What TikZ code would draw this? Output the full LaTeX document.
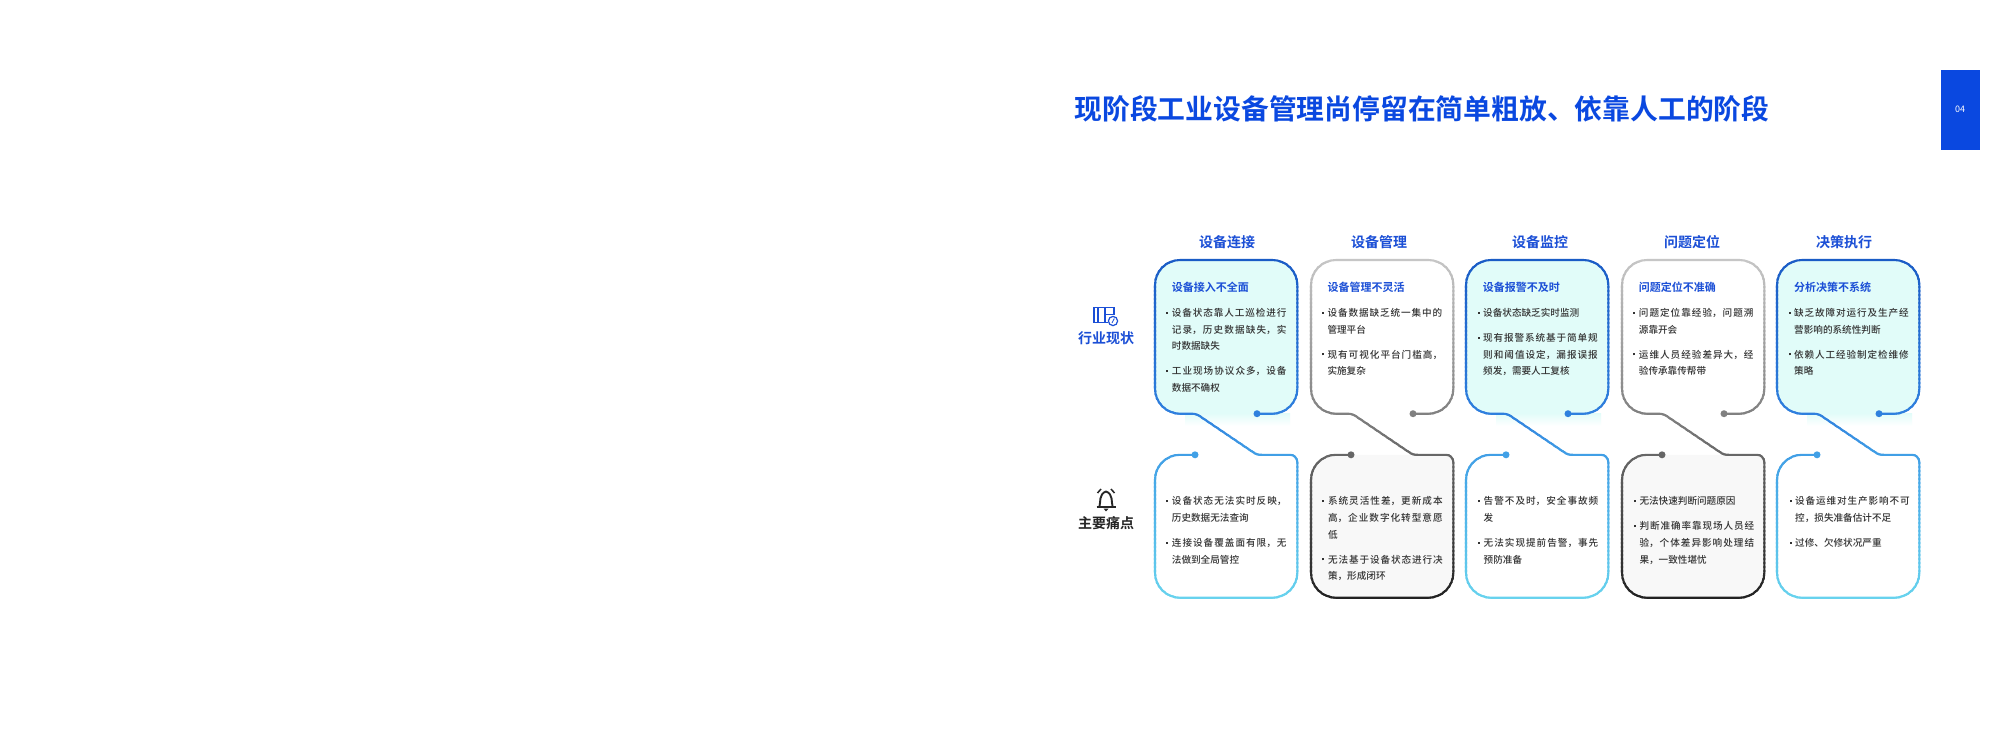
\documentclass[tikz,border=0pt]{standalone}
\usepackage{fontspec}
\setmainfont{Noto Sans CJK SC}[BoldFont=* Bold]
\newfontfamily\bodyfam{Noto Sans CJK SC Medium}
\XeTeXlinebreaklocale "zh"
\XeTeXlinebreakskip=0pt plus 3pt
\definecolor{brand}{HTML}{0A48E0}
\definecolor{headblue}{HTML}{1B4FD6}
\definecolor{bodytxt}{HTML}{333333}
\definecolor{palecyan}{HTML}{E1FCF9}
\definecolor{paleg}{HTML}{F8F8F8}
\definecolor{bA}{HTML}{1A5CC6}\definecolor{bB}{HTML}{2F80DE}\definecolor{bC}{HTML}{41A0E6}\definecolor{bD}{HTML}{68D4EE}
\definecolor{gA}{HTML}{C6C6C6}\definecolor{gB}{HTML}{808080}\definecolor{gC}{HTML}{666666}\definecolor{gD}{HTML}{202020}
\newcommand{\bul}{\leavevmode\llap{\raisebox{2.6pt}{\rule{2pt}{2pt}}\hspace{3.6pt}}}
\newcommand{\bodytext}[3]{\node[bodynode] at (#1,#2) {\bul #3};}
\newcommand{\pp}{\par\bul}
% one column outline: dot -> around the upper box -> tail -> around the lower box -> dot
\newcommand{\colpath}[1]{(#1+102,413.7) -- (#1+117.3,413.7) arc[start angle=90,end angle=0,radius=25] -- (#1+142.3,285) arc[start angle=0,end angle=-90,radius=25] -- (#1+25,260) arc[start angle=-90,end angle=-180,radius=25] -- (#1,388.7) arc[start angle=180,end angle=90,radius=25] -- (#1+37,413.7) .. controls (#1+41,413.7) and (#1+43,415) .. (#1+45,416.3) -- (#1+97,451.5) .. controls (#1+101,454.3) and (#1+103,454.8) .. (#1+107,454.8) -- (#1+135,454.8) arc[start angle=-90,end angle=0,radius=7.3] -- (#1+142.3,572.7) arc[start angle=0,end angle=90,radius=25] -- (#1+25,597.7) arc[start angle=90,end angle=180,radius=25] -- (#1,479.8) arc[start angle=180,end angle=270,radius=25] -- (#1+40,454.8)}
\newcommand{\upperfill}[1]{(#1+25,260) -- (#1+117.3,260) arc[start angle=-90,end angle=0,radius=25] -- (#1+142.3,388.7) arc[start angle=0,end angle=90,radius=25] -- (#1+25,413.7) arc[start angle=90,end angle=180,radius=25] -- (#1,285) arc[start angle=180,end angle=270,radius=25] -- cycle}
\newcommand{\lowerfill}[1]{(#1+25,454.8) -- (#1+135,454.8) arc[start angle=-90,end angle=0,radius=7.3] -- (#1+142.3,572.7) arc[start angle=0,end angle=90,radius=25] -- (#1+25,597.7) arc[start angle=90,end angle=180,radius=25] -- (#1,479.8) arc[start angle=180,end angle=270,radius=25] -- cycle}
% gradient stroke: overlapping horizontal clip bands
\newcommand{\gradstroke}[2]{%
 \foreach \yy in {258,262,...,600}{%
  \pgfmathsetmacro{\tt}{\yy<413?(\yy-258)/155*100:(\yy<455?(\yy-413)/42*100:(\yy-455)/145*100)}%
  \ifnum\yy<413 \colorlet{cc}{#2B!\tt!#2A}\else\ifnum\yy<455 \colorlet{cc}{#2C!\tt!#2B}\else\colorlet{cc}{#2D!\tt!#2C}\fi\fi
  \begin{scope}\clip (#1-5,\yy) rectangle (#1+150,\yy+5.5);
   \draw[outl,cc] \colpath{#1};
  \end{scope}}%
}
\tikzset{
 outl/.style={line width=2.1pt,line join=round},
 coltitle/.style={font=\bfseries\fontsize{14}{14}\selectfont,text=headblue,anchor=center,inner sep=0pt},
 subtitle/.style={font=\bfseries\fontsize{11}{11}\selectfont,text=headblue,anchor=base west,inner sep=0pt},
 bodynode/.style={anchor=base west,inner sep=0pt,text width=114.6pt,text=bodytxt,
   font=\bodyfam\fontsize{9.6}{16.7}\selectfont,execute at begin node={\setlength{\parskip}{8.3pt}\setlength{\parindent}{0pt}\setlength{\rightskip}{0pt}}},
 sidelabel/.style={font=\bfseries\fontsize{14}{14}\selectfont,anchor=center,inner sep=0pt},
 dotmark/.style={circle,inner sep=0pt,minimum size=7pt},
}
\begin{document}
\begin{tikzpicture}[x=1pt,y=-1pt]
\useasboundingbox (0,0) rectangle (1992,732);
\fill[white] (0,0) rectangle (1992,732);
% title and page tab
\node[font=\bfseries\fontsize{27.8}{28}\selectfont,text=brand,anchor=center,inner sep=0pt] (title) at (1422,109) {现阶段工业设备管理尚停留在简单粗放、依靠人工的阶段};
\fill[brand] (1941,70) rectangle (1980,149.5);
\node[font=\fontsize{9}{9}\selectfont,text=white,inner sep=0pt] (page) at (1960,109) {04};
% column headings
\node[coltitle] (h1) at (1227,242) {设备连接};
\node[coltitle] (h2) at (1379,242) {设备管理};
\node[coltitle] (h3) at (1540,242) {设备监控};
\node[coltitle] (h4) at (1692,242) {问题定位};
\node[coltitle] (h5) at (1844,242) {决策执行};
% fills
\foreach \xx in {1155,1466,1777}{
  \shade[top color=palecyan,bottom color=white] (\xx+30,413) rectangle (\xx+135,426);
  \fill[palecyan] \upperfill{\xx};}
\foreach \xx in {1311,1622}{\fill[paleg] \lowerfill{\xx};}
% outlines
\gradstroke{1155}{b}
\gradstroke{1311}{g}
\gradstroke{1466}{b}
\gradstroke{1622}{g}
\gradstroke{1777}{b}
% dots
\foreach \xx in {1155,1466,1777}{
 \node[dotmark,fill=bB] at (\xx+102,413.7) {};
 \node[dotmark,fill=bC] at (\xx+40,454.8) {};}
\foreach \xx in {1311,1622}{
 \node[dotmark,fill=gB] at (\xx+102,413.7) {};
 \node[dotmark,fill=gC] at (\xx+40,454.8) {};}
% upper subtitles
\node[subtitle] (s1) at (1171.7,291) {设备接入不全面};
\node[subtitle] (s2) at (1327.3,291) {设备管理不灵活};
\node[subtitle] (s3) at (1482.7,291) {设备报警不及时};
\node[subtitle] (s4) at (1638.7,291) {问题定位不准确};
\node[subtitle] (s5) at (1794,291) {分析决策不系统};
% upper bodies
\bodytext{1171.7}{316.3}{设备状态靠人工巡检进行记录，历史数据缺失，实时数据缺失\pp 工业现场协议众多，设备数据不确权}
\bodytext{1327.3}{316.3}{设备数据缺乏统一集中的管理平台\pp 现有可视化平台门槛高，实施复杂}
\bodytext{1483}{316.3}{设备状态缺乏实时监测\pp 现有报警系统基于简单规则和阈值设定，漏报误报频发，需要人工复核}
\bodytext{1638.7}{316.3}{问题定位靠经验，问题溯源靠开会\pp 运维人员经验差异大，经验传承靠传帮带}
\bodytext{1794}{316.3}{缺乏故障对运行及生产经营影响的系统性判断\pp 依赖人工经验制定检维修策略}
% lower bodies
\bodytext{1171.7}{504.6}{设备状态无法实时反映，历史数据无法查询\pp 连接设备覆盖面有限，无法做到全局管控}
\bodytext{1327.8}{504.6}{系统灵活性差，更新成本高，企业数字化转型意愿低\pp 无法基于设备状态进行决策，形成闭环}
\bodytext{1483.5}{504.6}{告警不及时，安全事故频发\pp 无法实现提前告警，事先预防准备}
\bodytext{1639.3}{504.6}{无法快速判断问题原因\pp 判断准确率靠现场人员经验，个体差异影响处理结果，一致性堪忧}
\bodytext{1795}{504.6}{设备运维对生产影响不可控，损失准备估计不足\pp 过修、欠修状况严重}
% side labels
\node[sidelabel,text=headblue] (l1) at (1106,338) {行业现状};
\node[sidelabel,text=black!85] (l2) at (1106,522.7) {主要痛点};
% icon: status
\begin{scope}[headblue,line width=1.2pt]
 \draw (1094,307.5) rectangle (1098,322.5);
 \draw (1098,307.5) rectangle (1105,322.5);
 \draw (1105,307.5) -- (1114,307.5) -- (1114,314.5) -- (1105,314.5);
 \draw (1105,322.5) -- (1108,322.5);
 \fill[white] (1113,321) circle (4.6);
 \draw (1113,321) circle (4.6);
 \draw[line width=.8pt] (1114.3,318.5) -- (1112,323);
\end{scope}
% icon: bell
\begin{scope}[black!85]
 \draw[line width=1.9pt,line join=round] (1099.5,506) .. controls (1100.8,503) and (1098.5,494) .. (1106,491.5) .. controls (1113.5,494) and (1111.2,503) .. (1112.5,506);
 \draw[line width=2pt] (1096.5,507) -- (1115.5,507);
 \fill (1103.5,508.7) -- (1108.5,508.7) -- (1106,511.3) -- cycle;
 \draw[line width=1.5pt] (1097.5,493) -- (1101,489);
 \draw[line width=1.5pt] (1114.5,493) -- (1111,489);
\end{scope}
\end{tikzpicture}
\end{document}
